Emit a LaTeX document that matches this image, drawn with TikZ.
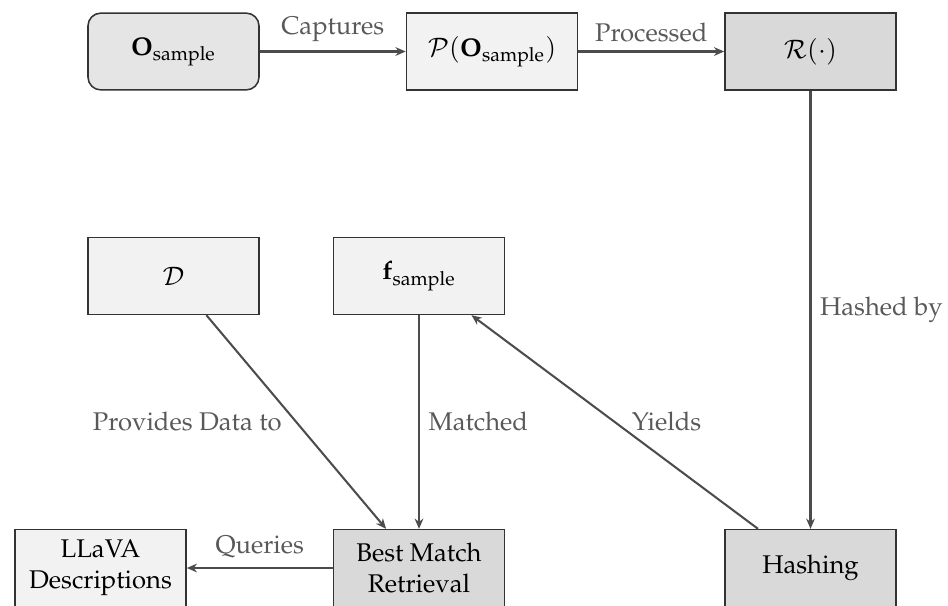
\documentclass[tikz,border=0pt]{standalone}
\usepackage[T1]{fontenc}
\usepackage{mathpazo}
\usetikzlibrary{arrows.meta}
\begin{document}
\begin{tikzpicture}[x=0.3906pt,y=-0.3906pt,
  box/.style={draw=black!80,line width=0.6pt,minimum width=66.8pt,minimum height=30pt,inner sep=2pt,align=center,font=\normalsize},
  light/.style={box,fill=black!5},
  dark/.style={box,fill=black!15},
  conn/.style={draw=black!70,line width=0.8pt,-{Stealth[length=4pt,width=3.4pt]}},
  lbl/.style={text=black!65,font=\normalsize}]
\useasboundingbox (0,0) rectangle (948,605);
\node[box,fill=black!10,rounded corners=5pt] (O) at (173.5,51.5) {$\mathbf{O}_{\mathrm{sample}}$};
\node[light] (P) at (492,51.5) {$\mathcal{P}(\mathbf{O}_{\mathrm{sample}})$};
\node[dark] (R) at (810.5,51.5) {$\mathcal{R}(\cdot)$};
\node[light] (D) at (173.5,276) {$\mathcal{D}$};
\node[light] (f) at (419,276) {$\mathbf{f}_{\mathrm{sample}}$};
\node[light] (L) at (100.5,568) {LLaVA\\Descriptions};
\node[dark] (B) at (419,568) {Best Match\\Retrieval};
\node[dark] (H) at (810.5,568) {Hashing};
\draw[conn] (O) -- node[lbl,above] {Captures} (P);
\draw[conn] (P) -- node[lbl,above] {Processed} (R);
\draw[conn] (R) -- node[lbl,right] {Hashed by} (H);
\draw[conn] (D) -- node[lbl,left,xshift=-2pt] {Provides Data to} (B);
\draw[conn] (f) -- node[lbl,right] {Matched} (B);
\draw[conn] (H) -- node[lbl,right,xshift=3pt] {Yields} (f);
\draw[conn] (B) -- node[lbl,above] {Queries} (L);
\end{tikzpicture}
\end{document}
